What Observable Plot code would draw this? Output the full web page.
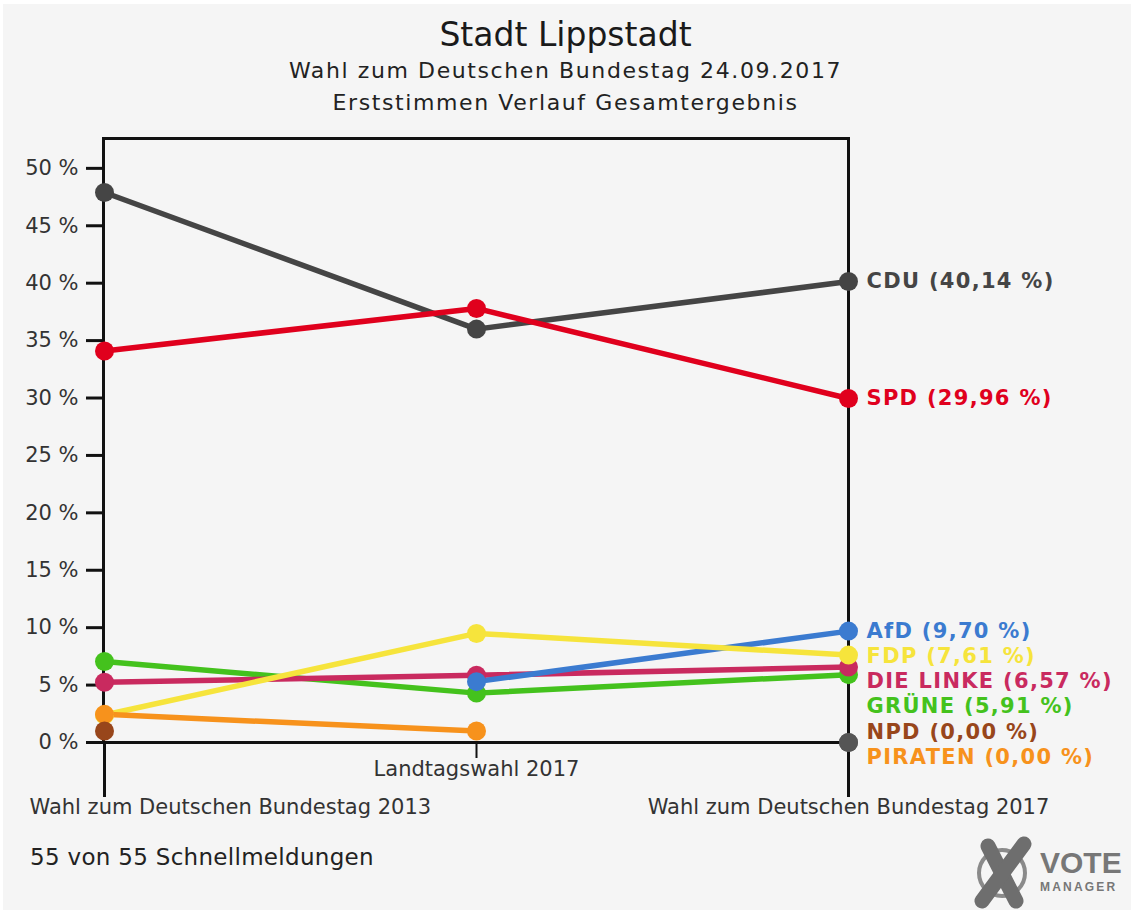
<!DOCTYPE html>
<html>
<head>
<meta charset="utf-8">
<script src="https://cdn.jsdelivr.net/npm/d3@7"></script>
<script src="https://cdn.jsdelivr.net/npm/@observablehq/plot@0.6"></script>
<style>
  html, body { margin: 0; padding: 0; background: #fff; }
  #page { position: relative; width: 1131px; height: 910px; background: #f5f5f5; box-shadow: inset 3px 4px 0 #fff; overflow: hidden; font-family: "DejaVu Sans", sans-serif; }
  .hdr { position: absolute; left: 0; width: 1131px; text-align: center; white-space: nowrap; color: #1a1a1a; }
  #t1 { top: 15px; font-size: 33px; line-height: 40px; }
  #t2 { top: 56px; font-size: 22px; line-height: 30px; letter-spacing: 1.6px; color: #222; }
  #t3 { top: 88px; font-size: 22px; line-height: 30px; letter-spacing: 1.6px; color: #222; }
  #chart { position: absolute; left: 0; top: 125px; }
  #foot { position: absolute; left: 30px; top: 842px; font-size: 23px; line-height: 30px; color: #222; letter-spacing: 0.3px; white-space: nowrap; }
  #logo { position: absolute; left: 960px; top: 830px; }
  g[aria-description="party-labels"] text { letter-spacing: 1.3px; }
</style>
</head>
<body>
<div id="page">
  <div class="hdr" id="t1">Stadt Lippstadt</div>
  <div class="hdr" id="t2">Wahl zum Deutschen Bundestag 24.09.2017</div>
  <div class="hdr" id="t3">Erststimmen Verlauf Gesamtergebnis</div>
  <div id="chart"></div>
  <div id="foot">55 von 55 Schnellmeldungen</div>
  <svg id="logo" width="171" height="80" viewBox="0 0 171 80">
    <circle cx="42" cy="43" r="23" fill="none" stroke="#8a8a8a" stroke-width="4"/>
    <line x1="28" y1="16" x2="56" y2="71" stroke="#6e6e6e" stroke-width="15" stroke-linecap="round"/>
    <line x1="64" y1="14" x2="22" y2="71" stroke="#6e6e6e" stroke-width="15" stroke-linecap="round"/>
    <text x="80" y="43" font-family="Liberation Sans, Arial, sans-serif" font-weight="bold" font-size="30" fill="#777">VOTE</text>
    <text x="80" y="61" font-family="Liberation Sans, Arial, sans-serif" font-weight="bold" font-size="12" letter-spacing="2.2" fill="#777">MANAGER</text>
  </svg>
</div>
<script>
// ---- data ----
const elections = ["Wahl zum Deutschen Bundestag 2013", "Landtagswahl 2017", "Wahl zum Deutschen Bundestag 2017"];
const drawOrder = ["CDU", "SPD", "GRÜNE", "DIE LINKE", "AfD", "FDP", "PIRATEN", "NPD"];
const labelOrder = ["CDU", "SPD", "AfD", "FDP", "DIE LINKE", "GRÜNE", "NPD", "PIRATEN"];
const partyColors = ["#454545", "#e0001d", "#44c21d", "#c92a5f", "#3b7bd0", "#f6e43c", "#f7921c", "#98461b"]; // by drawOrder
const cdu = [47.9, 36.0, 40.14];
const spd = [34.1, 37.8, 29.96];
const gruene = [7.05, 4.3, 5.91];
const linke = [5.25, 5.85, 6.57];
const afd = [null, 5.3, 9.70];
const fdp = [2.4, 9.5, 7.61];
const piraten = [2.45, 1.0, 0.00];
const npd = [1.0, null, 0.00];
const yTicks = [0, 5, 10, 15, 20, 25, 30, 35, 40, 45, 50];
const yTop = 52.6;
const noCandidateColor = "#555555";

// ---- build tables ----
const series = {"CDU": cdu, "SPD": spd, "GRÜNE": gruene, "DIE LINKE": linke, "AfD": afd, "FDP": fdp, "PIRATEN": piraten, "NPD": npd};
const lineData = [];
const zeroData = [];
for (const p of drawOrder) {
  series[p].forEach((v, i) => {
    if (v == null) return;
    if (v === 0) zeroData.push({party: p, election: elections[i], value: v});
    else lineData.push({party: p, election: elections[i], value: v});
  });
}

const W = 1131, H = 785, mL = 103, mR = 283, mT = 13, mB = 168;
const ys = d3.scaleLinear([0, yTop], [H - mB, mT]);
const last = elections.length - 1;
const labels = labelOrder.map(p => ({party: p, value: series[p][last]}));
// dodge labels vertically
const gap = 25.2;
const pos = labels.map(d => ys(d.value));
for (let i = 1; i < pos.length; i++) pos[i] = Math.max(pos[i], pos[i - 1] + gap);
pos[pos.length - 1] = Math.min(pos[pos.length - 1], ys(0) + 15);
for (let i = pos.length - 2; i >= 0; i--) pos[i] = Math.min(pos[i], pos[i + 1] - gap);
labels.forEach((d, i) => {
  d.ly = ys.invert(pos[i]);
  d.election = elections[last];
  d.text = `${d.party} (${d.value.toFixed(2).replace(".", ",")} %)`;
});

const chart = Plot.plot({
  width: W, height: H,
  marginLeft: mL, marginRight: mR, marginTop: mT, marginBottom: mB,
  style: {background: "transparent", fontFamily: "DejaVu Sans, sans-serif", fontSize: "21px", overflow: "visible"},
  x: {type: "point", domain: elections, padding: 0},
  y: {domain: [0, yTop]},
  color: {domain: drawOrder, range: partyColors},
  marks: [
    Plot.frame({stroke: "#111", strokeWidth: 3}),
    Plot.axisY(yTicks, {tickSize: 17, tickPadding: 8, tickFormat: d => `${d} %`, fontSize: 21, stroke: "#111", strokeWidth: 3, fill: "#333", label: null}),
    Plot.axisX([elections[0], elections[2]], {tickSize: 55, tickFormat: () => "", stroke: "#111", strokeWidth: 3, label: null}),
    Plot.axisX([elections[1]], {tickSize: 16, tickFormat: () => "", stroke: "#111", strokeWidth: 2, label: null}),
    Plot.text([elections[1]], {x: d => d, text: d => d, frameAnchor: "bottom", dy: 33, fontSize: 21, fill: "#333"}),
    Plot.text([elections[2]], {x: d => d, text: d => d, frameAnchor: "bottom", dy: 71, fontSize: 21, fill: "#333"}),
    Plot.text([elections[0]], {x: d => d, text: d => d, frameAnchor: "bottom", dy: 71, dx: -75, textAnchor: "start", fontSize: 21, fill: "#333"}),
    Plot.line(lineData, {x: "election", y: "value", z: "party", stroke: "party", strokeWidth: 5.5}),
    Plot.dot(lineData, {x: "election", y: "value", fill: "party", r: 9.5}),
    Plot.dot(zeroData, {x: "election", y: "value", fill: noCandidateColor, r: 9.5}),
    Plot.text(labels, {x: "election", y: "ly", text: "text", fill: "party", dx: 18, textAnchor: "start", fontWeight: "bold", fontSize: 21, ariaDescription: "party-labels"})
  ]
});
document.getElementById("chart").appendChild(chart);
</script>
</body>
</html>
